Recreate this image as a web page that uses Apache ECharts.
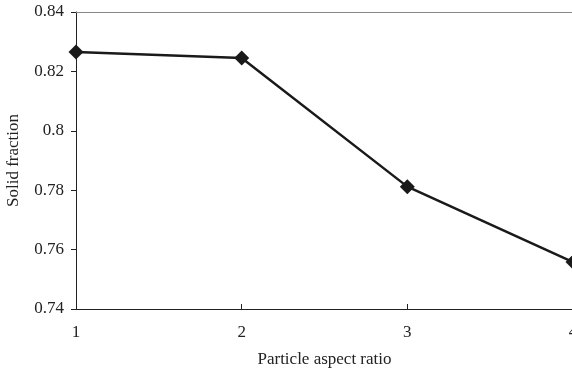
<!DOCTYPE html>
<html>
<head>
<meta charset="utf-8">
<script src="https://cdn.jsdelivr.net/npm/echarts@6/dist/echarts.min.js"></script>
<style>
  html, body { margin: 0; padding: 0; background: #fff; }
  #chart { width: 572px; height: 377px; }
</style>
</head>
<body>
<div id="chart"></div>
<script>
var aspectRatio = [1, 2, 3, 4];
var solidFraction = [0.8265, 0.8245, 0.7812, 0.7558];
var yTicks = [0.74, 0.76, 0.78, 0.8, 0.82, 0.84];

var myChart = echarts.init(document.getElementById('chart'));
var font = '"Liberation Serif", "Times New Roman", serif';
option = {
    backgroundColor: '#fff',
    animation: false,
    grid: { left: 76, right: -1, top: 12, bottom: 68, outerBoundsMode: 'none', containLabel: false },
    xAxis: [
        {
            type: 'value',
            min: 1, max: 4, interval: 1,
            name: 'Particle aspect ratio',
            nameLocation: 'middle',
            nameGap: 42,
            nameTextStyle: { fontFamily: font, fontSize: 17, color: '#222' },
            axisLine: { lineStyle: { color: '#222', width: 1 } },
            axisTick: { inside: true, length: 5, lineStyle: { color: '#222' } },
            axisLabel: { fontFamily: font, fontSize: 17, color: '#222', margin: 15 },
            splitLine: { show: false }
        },
        {
            type: 'value', position: 'top',
            min: 1, max: 4,
            axisLine: { show: true, lineStyle: { color: '#888', width: 1 } },
            axisTick: { show: false },
            axisLabel: { show: false },
            splitLine: { show: false }
        }
    ],
    yAxis: {
        type: 'value',
        min: 0.74, max: 0.84, interval: 0.02,
        name: 'Solid fraction',
        nameLocation: 'middle',
        nameGap: 54,
        nameTextStyle: { fontFamily: font, fontSize: 17, color: '#222' },
        axisLine: { show: true, lineStyle: { color: '#222', width: 1 } },
        axisTick: { show: true, length: 5, lineStyle: { color: '#222' } },
        axisLabel: {
            fontFamily: font, fontSize: 17, color: '#222', margin: 12,
            formatter: function (v) {
                var r = Math.round(v * 100) / 100;
                return yTicks.indexOf(r) >= 0 ? String(r) : '';
            }
        },
        splitLine: { show: false }
    },
    series: [
        {
            type: 'line',
            data: aspectRatio.map(function (x, i) { return [x, solidFraction[i]]; }),
            symbol: 'diamond',
            symbolSize: 15,
            itemStyle: { color: '#1a1a1a' },
            lineStyle: { color: '#1a1a1a', width: 2.5 }
        }
    ]
};
myChart.setOption(option);
</script>
</body>
</html>
